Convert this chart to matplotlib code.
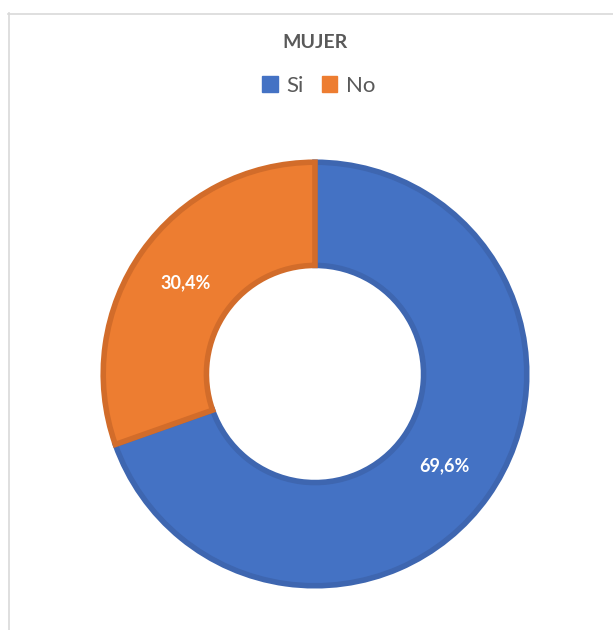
import matplotlib.pyplot as plt
from matplotlib.lines import Line2D
from matplotlib.patches import Patch

plt.rcParams['font.family'] = ['Lato', 'DejaVu Sans']

labels = ["Si", "No"]
values = [69.6, 30.4]
colors = ["#4472C4", "#ED7D31"]
edge_colors = ["#3E66B0", "#D26C2A"]

W, H = 613, 630
fig = plt.figure(figsize=(W / 100, H / 100), dpi=100)

# chart area border (left and top edges visible)
fig.add_artist(Line2D([8.5 / W, 8.5 / W], [0, (H - 13) / H], color="#D9D9D9", lw=1.2))
fig.add_artist(Line2D([8 / W, 1], [(H - 13.5) / H] * 2, color="#D9D9D9", lw=1.2))

ax = fig.add_axes([100 / W, (H - 589) / H, 430 / W, 430 / H])
wedges, _, autotexts = ax.pie(
    values, colors=colors, startangle=90, counterclock=False,
    radius=0.985, pctdistance=0.75,
    autopct=lambda p: f"{p:.1f}%".replace(".", ","),
    wedgeprops=dict(width=0.48, linewidth=4),
    textprops=dict(color="white", fontsize=13, fontweight="bold"),
)
for w, ec in zip(wedges, edge_colors):
    w.set_edgecolor(ec)
ax.set_xlim(-1, 1)
ax.set_ylim(-1, 1)
ax.set_aspect("equal")

fig.text(315 / W, (H - 42) / H, "MUJER", ha="center", va="center",
         fontsize=14, fontweight="bold", color="#595959")

handles = [Patch(facecolor=c, edgecolor=c) for c in colors]
fig.legend(handles, labels, loc="center", bbox_to_anchor=(319 / W, (H - 86) / H),
           ncol=2, frameon=False, fontsize=16, labelcolor="#595959",
           handlelength=0.7, handleheight=0.7, handletextpad=0.4, columnspacing=0.8)

fig.savefig("out.png", dpi=100, facecolor="white")
